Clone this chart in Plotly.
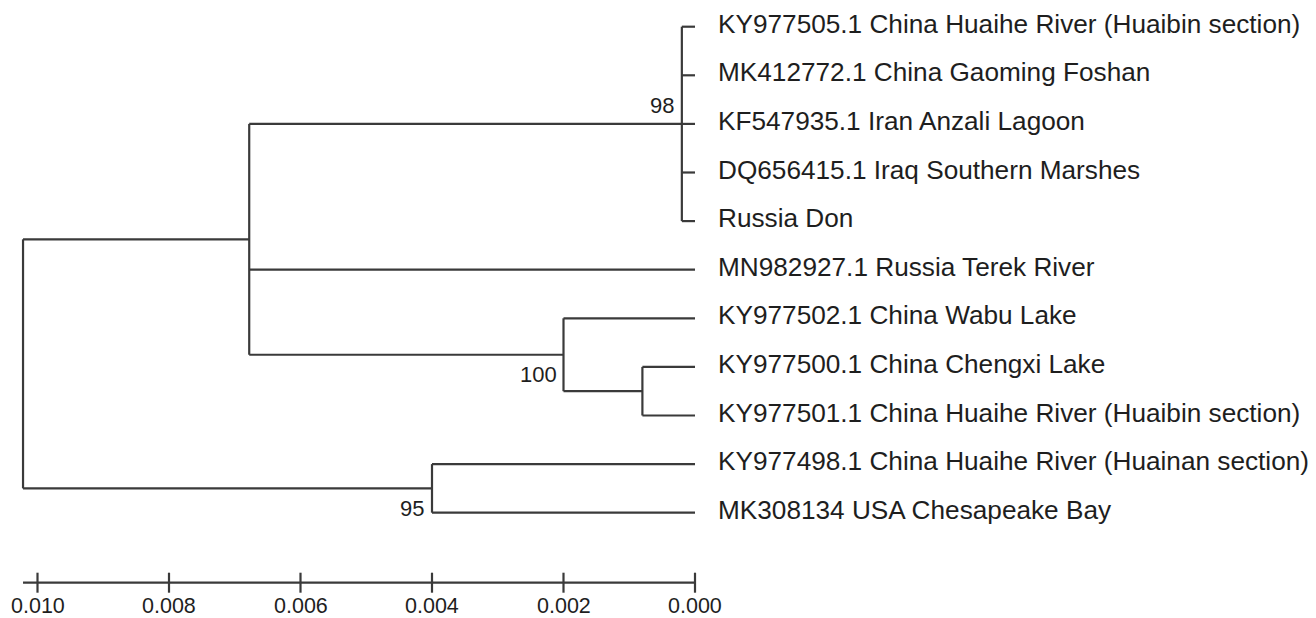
import plotly.graph_objects as go

# ---------------- data ----------------
taxa = [
    "KY977505.1 China Huaihe River (Huaibin section)",
    "MK412772.1 China Gaoming Foshan",
    "KF547935.1 Iran Anzali Lagoon",
    "DQ656415.1 Iraq Southern Marshes",
    "Russia Don",
    "MN982927.1 Russia Terek River",
    "KY977502.1 China Wabu Lake",
    "KY977500.1 China Chengxi Lake",
    "KY977501.1 China Huaihe River (Huaibin section)",
    "KY977498.1 China Huaihe River (Huainan section)",
    "MK308134 USA Chesapeake Bay",
]
leaf_parent = ["C98", "C98", "C98", "C98", "C98", "A", "C100", "Cin", "Cin", "C95", "C95"]

internal_nodes = ["root", "A", "C98", "C100", "Cin", "C95"]
internal_height = [0.01022, 0.00678, 0.0002, 0.0020, 0.0008, 0.0040]
internal_parent = [None, "root", "A", "A", "C100", "root"]

bootstrap_nodes = ["C98", "C100", "C95"]
bootstrap_values = [98, 100, 95]

scale_ticks = [0.010, 0.008, 0.006, 0.004, 0.002, 0.000]
scale_tick_labels = ["0.010", "0.008", "0.006", "0.004", "0.002", "0.000"]

# ---------------- layout constants ----------------
# page body has an 8px margin, so the figure is drawn 8px in from the corner
OFF = 8.0
W, H = 1308, 610
TIP_PX = 695.0 - OFF
PX_PER_UNIT = 65750.0
Y0_PX = 26.7 - OFF
ROW_PX = 48.6

x_left = TIP_PX / PX_PER_UNIT
x_right = (TIP_PX - W) / PX_PER_UNIT
y_top = -Y0_PX / ROW_PX
y_bot = (H - Y0_PX) / ROW_PX

LINE_COLOR = "#3a3a3a"
TEXT_COLOR = "#1e1e1e"
FONT = "Arial, Liberation Sans, sans-serif"

# ---------------- tree geometry ----------------
height = {n: h for n, h in zip(internal_nodes, internal_height)}
parent = {n: p for n, p in zip(internal_nodes, internal_parent)}
children = {n: [] for n in internal_nodes}
ypos = {}
for i, (t, p) in enumerate(zip(taxa, leaf_parent)):
    height[t] = 0.0
    parent[t] = p
    ypos[t] = float(i)
    children[p].append(t)
for n, p in zip(internal_nodes, internal_parent):
    if p is not None:
        children[p].append(n)


def node_y(n):
    if n in ypos:
        return ypos[n]
    ys = [node_y(c) for c in children[n]]
    ypos[n] = (min(ys) + max(ys)) / 2.0
    return ypos[n]


for n in internal_nodes:
    node_y(n)

xs, ys = [], []
for n in internal_nodes:
    cy = [ypos[c] for c in children[n]]
    xs += [height[n], height[n], None]
    ys += [min(cy), max(cy), None]
    for c in children[n]:
        xs += [height[n], height[c], None]
        ys += [ypos[c], ypos[c], None]

fig = go.Figure()
fig.add_trace(go.Scatter(x=xs, y=ys, mode="lines",
                         line=dict(color=LINE_COLOR, width=2.2),
                         hoverinfo="skip", showlegend=False))

# ---------------- scale bar ----------------
bar_y = (582.7 - OFF - Y0_PX) / ROW_PX
tick_half = 10.0 / ROW_PX
sx, sy = [height["root"], 0.0, None], [bar_y, bar_y, None]
for t in scale_ticks:
    sx += [t, t, None]
    sy += [bar_y - tick_half, bar_y + tick_half, None]
fig.add_trace(go.Scatter(x=sx, y=sy, mode="lines",
                         line=dict(color=LINE_COLOR, width=2.2),
                         hoverinfo="skip", showlegend=False))

annotations = []
label_y = (605.5 - OFF - Y0_PX) / ROW_PX
for t, lab in zip(scale_ticks, scale_tick_labels):
    annotations.append(dict(x=t, y=label_y, text=lab, showarrow=False,
                            xanchor="center", yanchor="middle",
                            font=dict(family=FONT, size=21.5, color=TEXT_COLOR)))

# ---------------- taxon labels ----------------
for t in taxa:
    annotations.append(dict(x=0.0, y=ypos[t], text=t, showarrow=False,
                            xanchor="left", yanchor="middle", xshift=21, yshift=3,
                            font=dict(family=FONT, size=26.2, color=TEXT_COLOR)))

# ---------------- bootstrap labels ----------------
boot_shift = {"C98": (-6, 18), "C100": (-5, -20), "C95": (-6, -20)}
for n, v in zip(bootstrap_nodes, bootstrap_values):
    dx, dy = boot_shift[n]
    annotations.append(dict(x=height[n], y=ypos[n], text=str(v), showarrow=False,
                            xanchor="right", yanchor="middle", xshift=dx, yshift=dy,
                            font=dict(family=FONT, size=22, color=TEXT_COLOR)))

fig.update_layout(
    width=W, height=H,
    margin=dict(l=0, r=0, t=0, b=0),
    paper_bgcolor="white", plot_bgcolor="white",
    xaxis=dict(range=[x_left, x_right], visible=False, fixedrange=True),
    yaxis=dict(range=[y_bot, y_top], visible=False, fixedrange=True),
    annotations=annotations,
    showlegend=False,
)

fig.write_html("out.html")
